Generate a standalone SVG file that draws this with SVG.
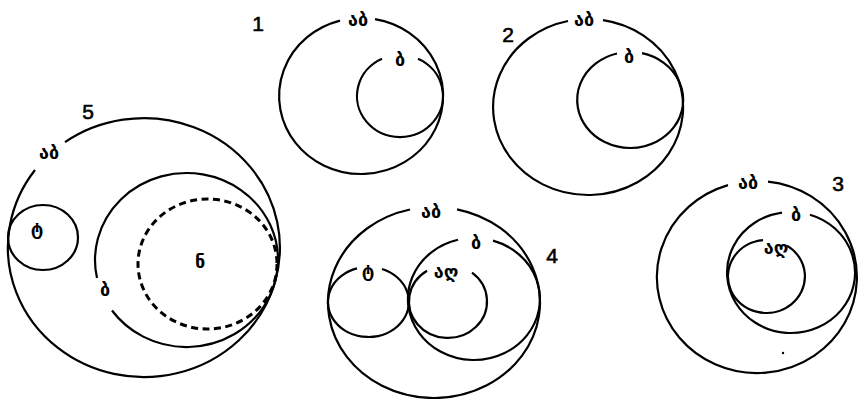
<svg xmlns="http://www.w3.org/2000/svg" width="858" height="399" viewBox="0 0 858 399">
<style>
.c{fill:none;stroke:#000;stroke-width:2.2}
.d{fill:none;stroke:#000;stroke-width:3;stroke-dasharray:7 4.5}
.l{font-family:"DejaVu Sans","Noto Sans",sans-serif;font-size:18px;font-weight:bold;text-anchor:middle;fill:#000}
.n{font-family:"Liberation Sans",Arial,sans-serif;font-size:21px;text-anchor:middle;fill:#000;stroke:#000;stroke-width:0.6}
</style>
<rect width="858" height="399" fill="#fff"/>
<g id="d1">
<path class="c" d="M375,19.1 A82,78 0 1 1 340,20.6"/>
<path class="c" d="M418,58.8 A43,41 0 1 1 382,58.8"/>
<text class="l" x="358" y="26">აბ</text>
<text class="l" x="400" y="66">ბ</text>
<text class="n" x="258" y="31">1</text>
</g>
<g id="d2">
<path class="c" d="M603,20.1 A95,88 0 1 1 568,21"/>
<path class="c" d="M642,53.2 A53,48 0 1 1 617,53.5"/>
<text class="l" x="584" y="26">აბ</text>
<text class="l" x="629" y="63">ბ</text>
<text class="n" x="508" y="42">2</text>
</g>
<g id="d5">
<path class="c" d="M65,142.1 A136,129.5 0 1 1 35,170"/>
<ellipse class="c" cx="43" cy="237.5" rx="35" ry="32.5"/>
<path class="c" d="M97,278 A91.5,87 0 1 1 112,310.5"/>
<ellipse class="d" cx="207.5" cy="264" rx="69.5" ry="65"/>
<text class="l" x="49" y="159">აბ</text>
<text class="n" x="88" y="119">5</text>
<text class="l" x="37" y="235">ტ</text>
<text class="l" x="105" y="296">ბ</text>
<text class="l" x="200" y="268">ნ</text>
</g>
<g id="d4">
<path class="c" d="M457,209.3 A106,95.5 0 1 1 410,209.5"/>
<path class="c" d="M382,269 A40.5,35 0 1 1 357,268.4"/>
<path class="c" d="M493,240.6 A66,61 0 1 1 458,239.8"/>
<path class="c" d="M472,272.7 A39,36.5 0 1 1 427,270.7"/>
<text class="l" x="431" y="218">აბ</text>
<text class="n" x="552" y="263">4</text>
<text class="l" x="368" y="277">ტ</text>
<text class="l" x="476" y="249">ბ</text>
<text class="l" x="446" y="278">აღ</text>
</g>
<g id="d3">
<path class="c" d="M768,181.6 A100,96 0 1 1 728,185.1"/>
<path class="c" d="M810,214.7 A64,60.5 0 1 1 782,212.6"/>
<path class="c" d="M787,245.6 A38.5,36.5 0 1 1 763,240.1"/>
<text class="l" x="748" y="189">აბ</text>
<text class="n" x="838" y="191">3</text>
<text class="l" x="796" y="221">ბ</text>
<text class="l" x="776" y="254">აღ</text>
<circle cx="783" cy="353" r="1.2" fill="#000"/>
</g>
<g id="connectors"/>
</svg>
